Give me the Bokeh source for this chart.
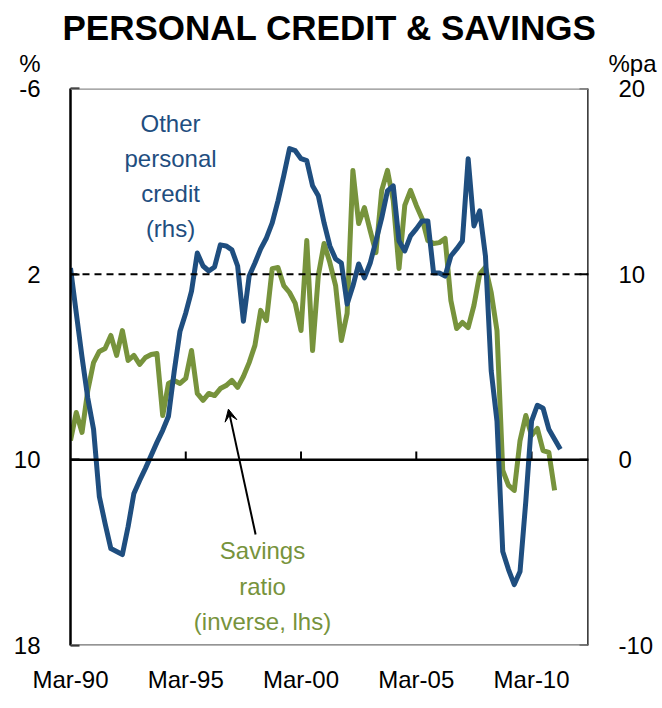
from bokeh.plotting import figure
from bokeh.layouts import column
from bokeh.models import Range1d, LinearAxis, FixedTicker, Span, Label, Arrow, VeeHead
from bokeh.embed import file_html
from bokeh.resources import INLINE

# ---- data (quarterly, first observation Mar-1990) ----
start_year = 1990
credit_rhs = [10.33, 7.91, 5.53, 3.32, 1.65, -1.97, -3.43, -4.78, -4.94, -5.10,
              -3.59, -1.81, -1.11, -0.46, 0.24, 0.94, 1.59, 2.35, 4.78, 6.93,
              7.91, 9.09, 11.14, 10.44, 10.17, 10.39, 11.58, 11.52, 11.31, 10.44,
              7.47, 9.90, 10.60, 11.36, 11.95, 12.76, 13.95, 15.30, 16.76, 16.65,
              16.22, 16.11, 14.76, 14.22, 12.76, 11.52, 10.82, 10.60, 8.39, 9.36,
              10.55, 9.80, 10.60, 11.79, 13.03, 14.49, 14.76, 11.79, 11.25, 12.06,
              12.44, 12.87, 12.87, 10.06, 10.06, 9.90, 10.98, 11.36, 11.79, 16.22,
              12.60, 13.41, 10.98, 4.78, 2.08, -4.94, -5.91, -6.72, -6.02, -2.24,
              2.08, 2.94, 2.78, 1.65, 1.11, 0.57]
savings_lhs = [9.17, 7.96, 8.82, 7.01, 5.81, 5.33, 5.20, 4.64, 5.50, 4.43,
               5.72, 5.50, 5.89, 5.59, 5.46, 5.42, 8.09, 6.71, 6.58, 6.71,
               6.49, 5.29, 7.14, 7.44, 7.14, 7.23, 6.93, 6.80, 6.58, 6.88,
               6.41, 5.81, 5.07, 3.56, 4.00, 1.76, 1.71, 2.49, 2.79, 3.26,
               4.43, 0.55, 5.29, 2.06, 0.68, 1.50, 2.49, 4.86, 3.69, -2.47,
               -0.18, -0.87, 0.12, 1.07, -1.61, -2.47, -1.17, 1.76, -0.96, -1.61,
               -0.96, -0.40, 0.55, 0.68, 0.64, 0.46, 3.13, 4.34, 4.08, 4.30,
               3.35, 2.00, 1.70, 2.79, 4.43, 10.46, 11.10, 11.32, 9.17, 8.09,
               8.95, 8.65, 9.60, 9.68, 11.32]
x_ticks = [1990, 1995, 2000, 2005, 2010]
x_tick_labels = ["Mar-90", "Mar-95", "Mar-00", "Mar-05", "Mar-10"]
lhs_ticks = [-6, 2, 10, 18]
lhs_tick_labels = ["-6", "2", "10", "18"]
rhs_ticks = [20, 10, 0, -10]
rhs_tick_labels = ["20", "10", "0", "-10"]
title_text = "PERSONAL CREDIT & SAVINGS"
lhs_unit = "%"
rhs_unit = "%pa"

BLUE = "#1f4e7f"
GREEN = "#77933c"
FONT = "Liberation Sans"
W = 660
X_START, X_END = 1990, 2012.47

xc = [start_year + i / 4 for i in range(len(credit_rhs))]
xs = [start_year + i / 4 for i in range(len(savings_lhs))]

# ---- header strip: title plus unit labels (as tick labels of bare axes) ----
head = figure(width=W, height=76, output_backend="svg", toolbar_location=None,
              x_range=Range1d(0, 1), y_range=Range1d(0, 1),
              x_axis_location=None, y_axis_location=None,
              min_border_left=70, min_border_right=72,
              min_border_top=49, min_border_bottom=0)
head.outline_line_color = None
head.xgrid.visible = False
head.ygrid.visible = False
head.title.text = title_text
head.title.align = "center"
head.title.text_font = FONT
head.title.text_font_size = "35px"
head.title.text_font_style = "bold"
head.title.text_color = "black"
head.title.standoff = 6

def label_axis(ticks, labels, standoff, **kw):
    ax = LinearAxis(ticker=FixedTicker(ticks=ticks),
                    major_label_overrides=dict(zip(ticks, labels)), **kw)
    ax.axis_line_color = None
    ax.major_tick_line_color = None
    ax.minor_tick_line_color = None
    ax.major_tick_in = 0
    ax.major_tick_out = 0
    ax.major_label_standoff = standoff
    ax.major_label_text_font = FONT
    ax.major_label_text_font_size = "24px"
    ax.major_label_text_color = "black"
    return ax

head.add_layout(label_axis([0.5], [lhs_unit], 30), "left")
head.add_layout(label_axis([0.5], [rhs_unit], 20), "right")

# ---- main chart ----
p = figure(width=W, height=630, output_backend="svg", toolbar_location=None,
           x_range=Range1d(X_START, X_END), y_range=Range1d(-10, 20),
           y_axis_location=None,
           min_border_left=70, min_border_right=72,
           min_border_top=12, min_border_bottom=61)
p.extra_y_ranges = {"lhs": Range1d(start=18, end=-6)}
p.outline_line_color = None
p.xgrid.visible = False
p.ygrid.visible = False

p.xaxis.ticker = FixedTicker(ticks=x_ticks)
p.xaxis.major_label_overrides = dict(zip(x_ticks, x_tick_labels))
p.xaxis.axis_line_color = None
p.xaxis.major_tick_line_color = None
p.xaxis.minor_tick_line_color = None
p.xaxis.major_tick_out = 0
p.xaxis.major_tick_in = 0
p.xaxis.major_label_standoff = 20
p.xaxis.major_label_text_font_size = "24px"
p.xaxis.major_label_text_font = FONT
p.xaxis.major_label_text_color = "black"

# left axis: line, inward ticks, labels
left = LinearAxis(y_range_name="lhs", ticker=FixedTicker(ticks=lhs_ticks),
                  major_label_overrides=dict(zip(lhs_ticks, lhs_tick_labels)))
left.axis_line_color = "black"
left.axis_line_width = 2.5
left.major_tick_line_color = "black"
left.major_tick_line_width = 2
left.major_tick_in = 9
left.major_tick_out = 0
left.minor_tick_line_color = None
left.major_label_text_font_size = "24px"
left.major_label_text_font = FONT
left.major_label_text_color = "black"
left.major_label_standoff = 30
p.add_layout(left, "left")

# right axis: labels only; border line and inward ticks drawn separately
p.add_layout(label_axis(rhs_ticks, rhs_tick_labels, 30), "right")
p.add_layout(Span(location=X_END, dimension="height", line_color="black", line_width=2.5))
p.segment(x0=[X_END - 0.39] * len(rhs_ticks), y0=rhs_ticks, x1=[X_END] * len(rhs_ticks), y1=rhs_ticks,
          line_color="black", line_width=2)

# frame top/bottom borders and reference lines
p.add_layout(Span(location=20, dimension="width", line_color="#8c8c8c", line_width=2.5))
p.add_layout(Span(location=-10, dimension="width", line_color="#707070", line_width=2.5))
p.add_layout(Span(location=10, dimension="width", line_color="black", line_width=2, line_dash="7 5"))
p.add_layout(Span(location=0, dimension="width", line_color="black", line_width=2.5))
p.segment(x0=x_ticks[1:], y0=[0] * 4, x1=x_ticks[1:], y1=[0.45] * 4,
          line_color="black", line_width=2)

# series
p.line(xs, savings_lhs, y_range_name="lhs", line_color=GREEN, line_width=5, line_join="round")
p.line(xc, credit_rhs, line_color=BLUE, line_width=5, line_join="round")

# annotations
p.add_layout(Label(x=1994.34, y=18.86, text="Other\npersonal\ncredit\n(rhs)", text_align="center",
                   text_baseline="top", text_font=FONT, text_font_size="24px", text_color=BLUE,
                   text_line_height=1.3))
p.add_layout(Label(x=1998.33, y=-4.18, text="Savings\nratio\n(inverse, lhs)", text_align="center",
                   text_baseline="top", text_font=FONT, text_font_size="24px", text_color=GREEN,
                   text_line_height=1.3))
p.add_layout(Arrow(x_start=1998.03, y_start=-4.02, x_end=1996.85, y_end=2.73,
                   line_color="black", line_width=2,
                   end=VeeHead(size=12, fill_color="black", line_color="black")))

layout = column(head, p, spacing=0)
open("out.html", "w").write(file_html(layout, INLINE))
